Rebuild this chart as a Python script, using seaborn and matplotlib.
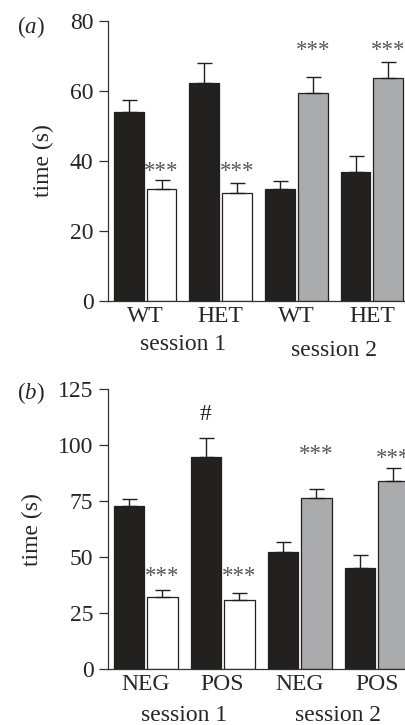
import numpy as np
import pandas as pd
import matplotlib
matplotlib.use("Agg")
import matplotlib.pyplot as plt
import seaborn as sns

# ---------------- data ----------------
a_groups = ["WT", "HET", "WT", "HET"]
a_sessions = ["session 1", "session 1", "session 2", "session 2"]
a_first = [54.1, 62.4, 31.9, 36.9]
a_first_err = [3.3, 5.5, 2.4, 4.6]
a_second = [32.0, 30.9, 59.3, 63.6]
a_second_err = [2.6, 2.9, 4.8, 4.7]
a_first_marks = ["", "", "", ""]
a_first_mark_y = [0, 0, 0, 0]
a_second_marks = ["***", "***", "***", "***"]
a_second_mark_y = [38.4, 38.4, 73.1, 73.1]
a_yticks = [0, 20, 40, 60, 80]

b_groups = ["NEG", "POS", "NEG", "POS"]
b_sessions = ["session 1", "session 1", "session 2", "session 2"]
b_first = [72.8, 94.6, 52.4, 45.3]
b_first_err = [3.1, 8.7, 4.5, 5.7]
b_second = [32.2, 30.9, 76.2, 84.0]
b_second_err = [3.3, 3.1, 4.2, 5.6]
b_first_marks = ["", "#", "", ""]
b_first_mark_y = [0, 113.8, 0, 0]
b_second_marks = ["***", "***", "***", "***"]
b_second_mark_y = [43.5, 43.5, 97.8, 96.3]
b_yticks = [0, 25, 50, 75, 100, 125]

# ---------------- style ----------------
BLACK = "#231f20"
WHITE = "#ffffff"
GREY = "#a9abae"
EDGE = "#231f20"
AXC = "#333333"
FS = 17

sns.set_theme(style="ticks")
plt.rcParams['font.family'] = ['Liberation Serif', 'DejaVu Serif']
plt.rcParams['mathtext.fontset'] = 'custom'
plt.rcParams['mathtext.rm'] = 'Liberation Serif'
plt.rcParams['mathtext.it'] = 'Liberation Serif:italic'

fig = plt.figure(figsize=(4.06, 7.25), dpi=100)


def panel(ax, groups, sessions, first, first_err, second, second_err,
          fmarks, fmark_y, smarks, smark_y, yticks, xlim, ylab_x, sess_y):
    keys = [f"{s}|{g}" for s, g in zip(sessions, groups)]
    df = pd.DataFrame({
        "key": keys * 2,
        "session": sessions * 2,
        "phase": ["first"] * 4 + ["second"] * 4,
        "time": first + second,
        "err": first_err + second_err,
        "mark": fmarks + smarks,
        "mark_y": fmark_y + smark_y,
    })
    for sess, col in [("session 1", WHITE), ("session 2", GREY)]:
        sub = df[df.session == sess]
        n0 = len(ax.containers)
        sns.barplot(data=sub, x="key", y="time", hue="phase", order=keys,
                    hue_order=["first", "second"],
                    palette={"first": BLACK, "second": col},
                    width=0.87, gap=0.09, edgecolor=EDGE, linewidth=0.9,
                    errorbar=None, legend=False, ax=ax, zorder=2)
        for cont, ph in zip(ax.containers[n0:], ["first", "second"]):
            rows = sub[sub.phase == ph].set_index("key").reindex(
                [k for k in keys if k in set(sub.key)])
            for bar, (_, r) in zip(cont, rows.iterrows()):
                xc = bar.get_x() + bar.get_width() / 2
                h = bar.get_height()
                ax.errorbar([xc], [h], yerr=[[0], [r.err]], fmt="none",
                            ecolor=EDGE, elinewidth=1.0, capsize=5.4,
                            capthick=1.0, zorder=3, clip_on=False)
                if r.mark == "***":
                    ax.annotate(r.mark, (xc, r.mark_y), xytext=(0, -3.5),
                                textcoords="offset points", ha="center",
                                va="center", fontsize=16.5, color="#555555",
                                annotation_clip=False)
                elif r.mark:
                    ax.annotate(r.mark, (xc, r.mark_y), xytext=(0, 0),
                                textcoords="offset points", ha="center",
                                va="center", fontsize=17, color="#222222",
                                annotation_clip=False)
    ax.set_xlim(*xlim)
    ax.set_ylim(yticks[0], yticks[-1])
    ax.set_yticks(yticks)
    ax.set_xticks(range(len(groups)))
    ax.set_xticklabels(groups)
    ax.set_xlabel("")
    ax.set_ylabel("time (s)", fontsize=FS)
    ax.yaxis.set_label_coords(ylab_x, 0.5)
    ax.tick_params(axis="y", length=6.5, width=0.9, color=AXC,
                   labelsize=FS, pad=4)
    ax.tick_params(axis="x", length=0, labelsize=FS, pad=3.5)
    for sp in ["top", "right"]:
        ax.spines[sp].set_visible(False)
    for sp in ["left", "bottom"]:
        ax.spines[sp].set_color(AXC)
        ax.spines[sp].set_linewidth(0.9)
    ax.set_facecolor("white")
    # session labels
    pos = np.arange(len(groups))
    for sess, dy in zip(["session 1", "session 2"], sess_y):
        xm = pos[np.array(sessions) == sess].mean()
        ax.text(xm, dy, sess, transform=ax.get_xaxis_transform(),
                ha="center", va="center", fontsize=FS)


# panel (a)
ax_a = fig.add_axes([108 / 406, 1 - 301 / 725, 298 / 406, 280 / 725])
panel(ax_a, a_groups, a_sessions, a_first, a_first_err, a_second,
      a_second_err, a_first_marks, a_first_mark_y, a_second_marks,
      a_second_mark_y, a_yticks, (-0.49, 3.45), -0.181, (-0.155, -0.176))

# panel (b)
ax_b = fig.add_axes([108 / 406, 1 - 669.3 / 725, 298 / 406, 280.3 / 725])
panel(ax_b, b_groups, b_sessions, b_first, b_first_err, b_second,
      b_second_err, b_first_marks, b_first_mark_y, b_second_marks,
      b_second_mark_y, b_yticks, (-0.487, 3.38), -0.218, (-0.165, -0.165))

fig.text(17 / 406, 1 - 27 / 725, r"($\it{a}$)", ha="left", va="center",
         fontsize=16.5)
fig.text(17 / 406, 1 - 393 / 725, r"($\it{b}$)", ha="left", va="center",
         fontsize=16.5)

fig.savefig("out.png", dpi=100, facecolor="white")
